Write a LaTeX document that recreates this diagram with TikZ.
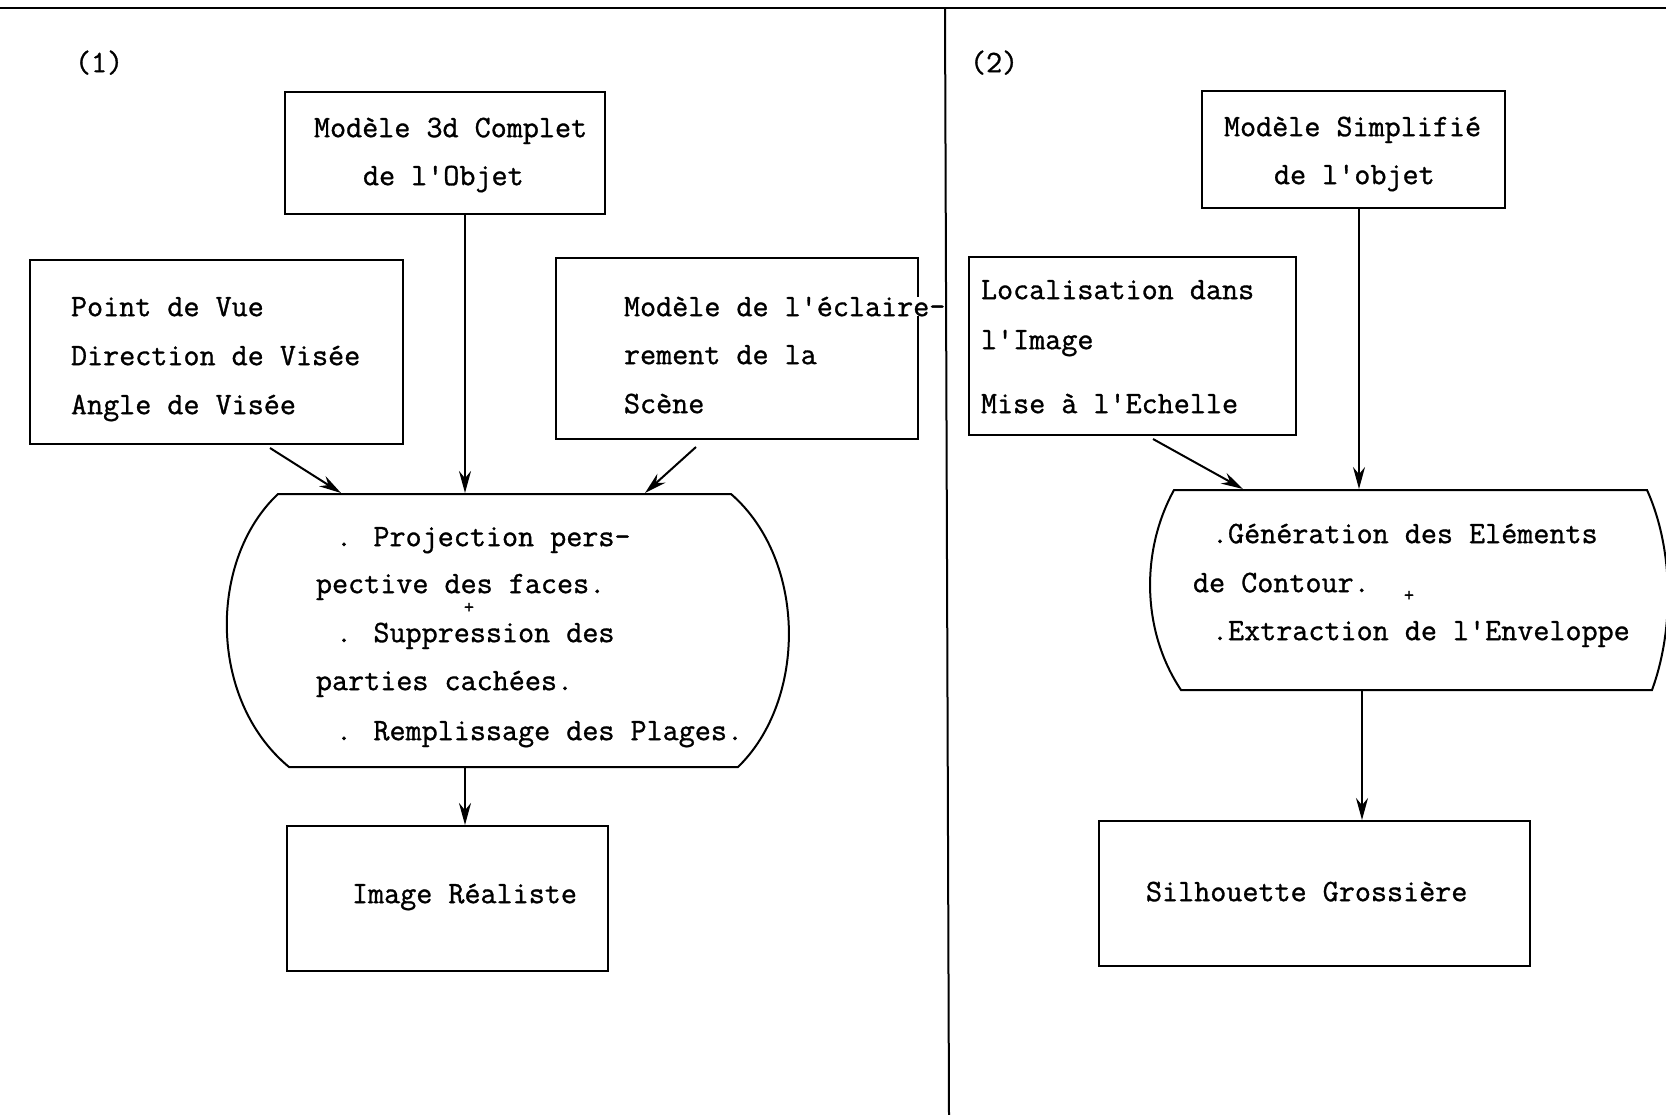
\documentclass[tikz,border=0pt]{standalone}
\usepackage{fontspec}
\newfontfamily\typew{Latin Modern Mono}[FakeBold=1]
\usetikzlibrary{arrows.meta,calc}
\begin{document}
\begin{tikzpicture}[x=1pt,y=-1pt,
  line width=2pt,
  box/.style={draw,rectangle,inner sep=0pt},
  ghost/.style={rectangle,inner sep=0pt},
  txt/.style={anchor=mid west,inner sep=0pt,yshift=-6pt,font=\typew\fontsize{31.2}{34}\selectfont},
  plus/.style={inner sep=0pt,font=\typew\fontsize{20}{22}\selectfont},
  arr/.style={-{Stealth[length=22pt,width=12pt]}}]
\useasboundingbox (0,0) rectangle (1666,1115);
% frame lines
\coordinate (tl) at (0,8);
\coordinate (tr) at (1666,8);
\coordinate (dt) at (945,8);
\coordinate (db) at (949,1115);
\draw (tl) -- (tr);
\draw (dt) -- (db);
\node[txt] (n1) at (74,64) {(1)};
\node[txt] (n2) at (969,64) {(2)};

% ---------- panel 1 ----------
\node[box,minimum width=320pt,minimum height=122pt] (b1) at (445,153) {};
\node[txt] (b1t1) at (313,129) {Modèle 3d Complet};
\node[txt] (b1t2) at (362,177) {de l'Objet};

\node[box,minimum width=373pt,minimum height=184pt] (pv) at (216.5,352) {};
\node[txt] (pvt1) at (70,308) {Point de Vue};
\node[txt] (pvt2) at (70,357) {Direction de Visée};
\node[txt] (pvt3) at (70,406) {Angle de Visée};

\node[box,minimum width=362pt,minimum height=181pt] (ecl) at (737,348.5) {};
\node[txt,fill=white] (eclt1) at (623,308) {Modèle de l'éclaire-};
\node[txt] (eclt2) at (623,356) {rement de la};
\node[txt] (eclt3) at (623,405) {Scène};

\node[ghost,minimum width=460pt,minimum height=273pt] (bar1) at (508,630.5) {};
\draw (278,494) -- (731,494)
  .. controls (807,560) and (807,700) .. (738,767)
  -- (289,767)
  .. controls (208,700) and (208,560) .. (278,494) -- cycle;
\node[txt] (p1) at (335,538) {. Projection pers-};
\node[txt] (p2) at (315,585) {pective des faces.};
\node[plus] (pl1) at (469,608) {+};
\node[txt] (p3) at (335,634) {. Suppression des};
\node[txt] (p4) at (315,682) {parties cachées.};
\node[txt] (p5) at (335,732) {. Remplissage des Plages.};

\node[box,minimum width=321pt,minimum height=145pt] (im) at (447.5,898.5) {};
\node[txt] (imt) at (351,895) {Image Réaliste};

\draw[arr] ([xshift=20pt]b1.south) -- ([xshift=20pt]b1.south |- bar1.north);
\draw[arr] ([xshift=53.5pt,yshift=-3pt]pv.south) -- ([xshift=-167pt]bar1.north);
\draw[arr] ([xshift=-41pt,yshift=-7pt]ecl.south) -- ([xshift=137pt]bar1.north);
\draw[arr] ([xshift=-43pt]bar1.south) -- ([xshift=-43pt]bar1.south |- im.north);

% ---------- panel 2 ----------
\node[box,minimum width=303pt,minimum height=117pt] (ms) at (1353.5,149.5) {};
\node[txt] (mst1) at (1223,128) {Modèle Simplifié};
\node[txt] (mst2) at (1273,176) {de l'objet};

\node[box,minimum width=327pt,minimum height=178pt] (loc) at (1132.5,346) {};
\node[txt] (loct1) at (980,291) {Localisation dans};
\node[txt] (loct2) at (980,341) {l'Image};
\node[txt] (loct3) at (980,405) {Mise à l'Echelle};

\node[ghost,minimum width=478pt,minimum height=200pt] (bar2) at (1413,590) {};
\draw (1174,490) -- (1647,490)
  .. controls (1674,550) and (1674,630) .. (1652,690)
  -- (1181,690)
  .. controls (1141,630) and (1141,550) .. (1174,490) -- cycle;
\node[txt] (q1) at (1211,535) {.Génération des Eléments};
\node[txt] (q2) at (1192,584) {de Contour.};
\node[plus] (pl2) at (1409,596) {+};
\node[txt] (q3) at (1211,632) {.Extraction de l'Enveloppe};

\node[box,minimum width=431pt,minimum height=145pt] (sil) at (1314.5,893.5) {};
\node[txt] (silt) at (1145,893) {Silhouette Grossière};

\draw[arr] ([xshift=5.5pt]ms.south) -- ([xshift=5.5pt]ms.south |- bar2.north);
\draw[arr] ([xshift=20.5pt,yshift=-3pt]loc.south) -- ([xshift=-170pt]bar2.north);
\draw[arr] ([xshift=-51pt]bar2.south) -- ([xshift=-51pt]bar2.south |- sil.north);
\end{tikzpicture}
\end{document}
